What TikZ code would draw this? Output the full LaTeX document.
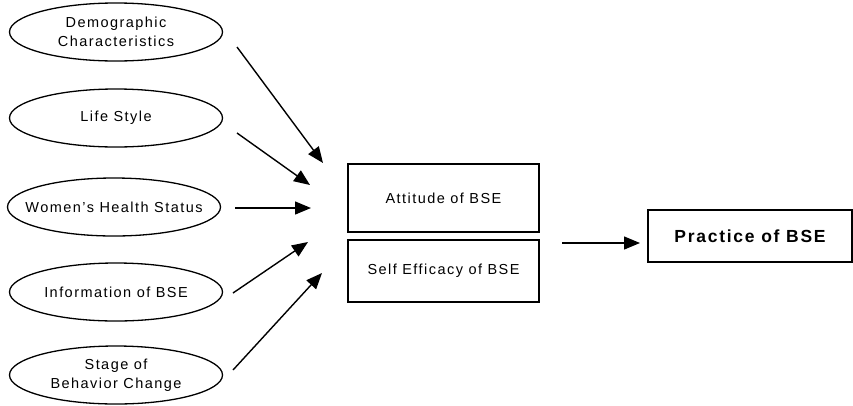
\documentclass[tikz,border=0pt]{standalone}
\usepackage{fontspec}
\setmainfont{Liberation Sans}[LetterSpace=10]
\usetikzlibrary{shapes.geometric,arrows.meta}
\begin{document}
\begin{tikzpicture}[x=1pt,y=-1pt,
  oval/.style={draw, ellipse, line width=1.3pt, minimum width=213pt, minimum height=58pt, inner xsep=-40pt, inner ysep=0pt, font=\fontsize{14.5}{19.5}\selectfont, align=center},
  box/.style={draw, rectangle, line width=1.3pt, inner sep=0pt, font=\fontsize{14.5}{19}\selectfont},
  arr/.style={line width=1.4pt, -{Triangle[length=16pt,width=13pt]}}]
\useasboundingbox (0,0) rectangle (853,405);
% ovals
\node[oval] (d1) at (116,32) {Demographic\\Characteristics};
\node[oval] (d2) at (116,118) {Life Style};
\node[oval] (d3) at (114,207) {Women's Health Status};
\node[oval] (d4) at (116,292) {Information of BSE};
\node[oval] (d5) at (116,375) {Stage of\\Behavior Change};
% boxes
\node[box, minimum width=191pt, minimum height=68pt] (att) at (443.5,198) {Attitude of BSE};
\node[box, minimum width=191pt, minimum height=62pt] (se) at (443.5,271) {Self Efficacy of BSE};
\node[box, minimum width=204pt, minimum height=52pt, font=\fontsize{17.5}{22}\selectfont\bfseries] (pr) at (750,236) {Practice of BSE};
% arrow end points
\coordinate (s1) at (237,47);  \coordinate (t1) at (323,163);
\coordinate (s2) at (237,133); \coordinate (t2) at (310,185);
\coordinate (s3) at (235,208); \coordinate (t3) at (311,208);
\coordinate (s4) at (233,293); \coordinate (t4) at (308,242);
\coordinate (s5) at (233,370); \coordinate (t5) at (322,273);
\coordinate (s6) at (562,243); \coordinate (t6) at (640,243);
\draw[arr] (s1) -- (t1);
\draw[arr] (s2) -- (t2);
\draw[arr] (s3) -- (t3);
\draw[arr] (s4) -- (t4);
\draw[arr] (s5) -- (t5);
\draw[arr] (s6) -- (t6);
\end{tikzpicture}
\end{document}
